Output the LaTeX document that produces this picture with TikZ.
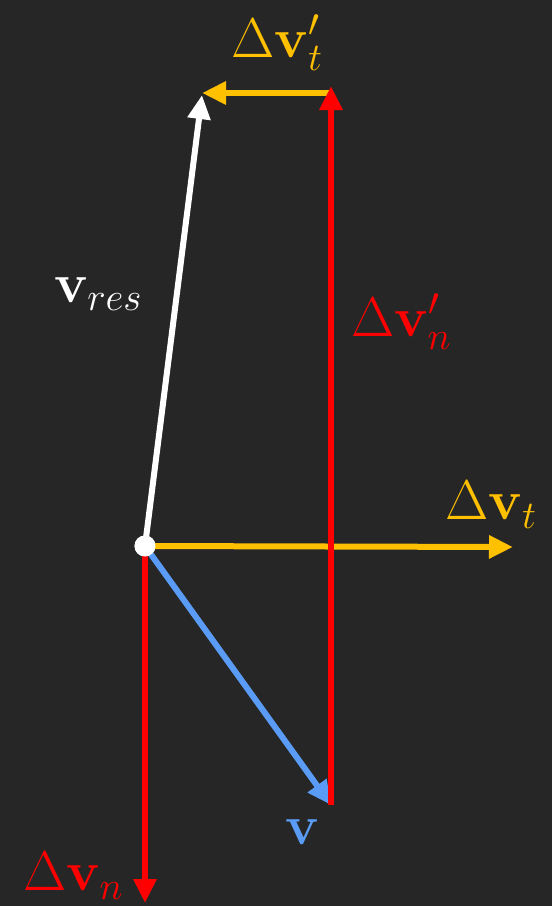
\documentclass[tikz,border=0pt]{standalone}
\usepackage{fix-cm}
\usepackage{amsmath}
\usepackage{xcolor}
\usepackage{tikz}
\usetikzlibrary{arrows.meta, positioning}

\definecolor{bgdark}{HTML}{262626}
\definecolor{vyellow}{HTML}{FFC000}
\definecolor{vred}{HTML}{FF0000}
\definecolor{vblue}{HTML}{5A9CF5}

\begin{document}
\begin{tikzpicture}[
  x=1pt, y=-1pt,
  vec/.style={line width=6pt, -{Triangle[length=24pt,width=22pt]}},
  lbl/.style={font=\fontsize{56}{60}\selectfont, inner sep=0pt},
  dot/.style={circle, fill=white, minimum size=21pt, inner sep=0pt}
]
\fill[bgdark] (0,0) rectangle (552,906);
\useasboundingbox (0,0) rectangle (552,906);

% points
\coordinate (vtip)  at (331,805);
\coordinate (ntop)  at (331,86);
\coordinate (ttop)  at (202,93);
\coordinate (restip) at (202,95);
\coordinate (tend)  at (513,547);
\coordinate (nend)  at (145,903);
\node[dot] (o) at (145,546) {};

% vectors
\draw[vec, vred]    (o.center) -- (nend);
\draw[vec, vyellow] (o.center) -- (tend);
\draw[vec, vblue]   (o.center) -- (vtip);
\draw[vec, vyellow] (331,93) -- (ttop);
\draw[vec, vred]    (vtip) -- (ntop);
\draw[vec, white]   (o.center) -- (restip);
\node[dot] at (o) {};

% labels
\node[lbl, text=vyellow] (dvtp) at (277,43)  {$\Delta\mathbf{v}'_t$};
\node[lbl, text=white]   (vres) at (98,294)  {$\mathbf{v}_{res}$};
\node[lbl, text=vred]    (dvnp) at (401,322) {$\Delta\mathbf{v}'_n$};
\node[lbl, text=vyellow] (dvt)  at (491,505) {$\Delta\mathbf{v}_t$};
\node[lbl, text=vblue]   (v)    at (303,832) {$\mathbf{v}$};
\node[lbl, text=vred]    (dvn)  at (73,876)  {$\Delta\mathbf{v}_n$};
\end{tikzpicture}
\end{document}
